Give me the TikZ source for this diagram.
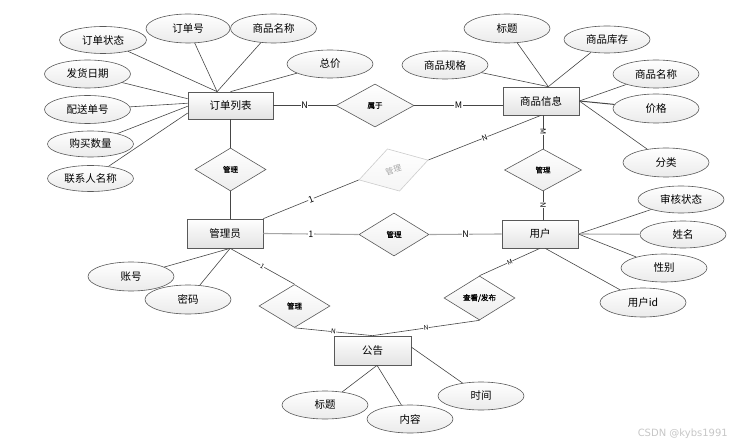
\documentclass[tikz,border=0pt]{standalone}
\usepackage{fontspec}
\setmainfont{Noto Sans CJK SC}
\newfontfamily\relfont[FakeBold=1]{Noto Sans CJK SC}
\newfontfamily\wmfont{DejaVu Sans}
\usetikzlibrary{shapes.geometric,shadows}
\begin{document}
\begin{tikzpicture}[x=1pt,y=-1pt,
 ent/.style={draw=gray!70!black, line width=0.7pt, top color=white, bottom color=gray!22,
   minimum width=76pt, minimum height=28pt, inner sep=0pt, font=\fontsize{10.5}{12}\selectfont,
   drop shadow={shadow xshift=1pt, shadow yshift=-1pt, opacity=0.25}},
 attr/.style={ellipse, draw=gray!70!black, line width=0.6pt, top color=white, bottom color=gray!16,
   minimum width=86pt, minimum height=28pt, inner sep=0pt, font=\fontsize{10.5}{12}\selectfont},
 rel/.style={diamond, draw=gray!70!black, line width=0.6pt, top color=white, bottom color=gray!14,
   minimum width=71pt, minimum height=43pt, inner sep=0pt, font=\relfont\fontsize{7.5}{9}\selectfont},
 ln/.style={draw=gray!55!black, line width=0.6pt},
 thk/.style={draw=gray!70, line width=1.1pt},
 card/.style={fill=white, inner sep=0.4pt, font=\fontsize{9}{10}\selectfont, sloped},
 cards/.style={fill=white, inner sep=0.3pt, font=\fontsize{6.5}{7}\selectfont, sloped},
 ]
\useasboundingbox (0,0) rectangle (746,446);

% entities
\node[ent, minimum width=85pt, minimum height=27pt] (ddlb) at (230.5,105.5) {订单列表};
\node[ent] (spxx) at (541,101) {商品信息};
\node[ent, minimum height=29pt] (gly) at (225,233.5) {管理员};
\node[ent] (yh) at (540,234) {用户};
\node[ent, minimum width=77pt, minimum height=29pt] (gg) at (372.5,350.5) {公告};

% relationships
\node[rel, minimum width=78pt] (sy) at (375,105.5) {属于};
\node[rel] (gla) at (230.5,169.5) {管理};
\node[rel, draw=gray!40, text=gray!70, bottom color=gray!8, rotate=16, minimum width=72pt, minimum height=44pt,
  font=\fontsize{8}{9}\selectfont] (glb) at (393.5,170) {管理};
\node[rel, minimum width=70pt] (glc) at (394,234.5) {管理};
\node[rel, minimum width=77pt, minimum height=42pt] (gld) at (543,170) {管理};
\node[rel] (gle) at (294.5,306) {管理};
\node[rel, minimum height=44pt] (ckfb) at (479.5,298) {查看/发布};

% attributes of 订单列表
\node[attr, minimum width=87pt, minimum height=27pt] (a1) at (103,40) {订单状态};
\node[attr, minimum width=84pt, minimum height=29pt] (a2) at (188,28.5) {订单号};
\node[attr, minimum height=29pt] (a3) at (273.5,28.5) {商品名称};
\node[attr] (a4) at (330,64) {总价};
\node[attr] (a5) at (87.5,74) {发货日期};
\node[attr] (a6) at (87.5,109.5) {配送单号};
\node[attr, minimum height=26pt] (a7) at (90.5,144) {购买数量};
\node[attr, minimum height=26pt] (a8) at (90.5,178.5) {联系人名称};
% attributes of 商品信息
\node[attr, minimum height=29pt] (b1) at (507,28.5) {标题};
\node[attr, minimum height=27pt] (b2) at (607,39.5) {商品库存};
\node[attr] (b3) at (445,65) {商品规格};
\node[attr] (b4) at (656,74) {商品名称};
\node[attr, minimum height=29pt] (b5) at (656,108.5) {价格};
\node[attr, minimum height=29pt] (b6) at (666,162.5) {分类};
% attributes of 用户
\node[attr, minimum height=27pt] (c1) at (681,199.5) {审核状态};
\node[attr, minimum height=27pt] (c2) at (683,234.5) {姓名};
\node[attr] (c3) at (664,268) {性别};
\node[attr, minimum height=29pt] (c4) at (643,302.5) {用户id};
% attributes of 管理员
\node[attr, minimum height=29pt] (d1) at (131,276.5) {账号};
\node[attr, minimum height=29pt] (d2) at (188,299.5) {密码};
% attributes of 公告
\node[attr] (e1) at (325,405) {标题};
\node[attr] (e2) at (410,419) {内容};
\node[attr] (e3) at (481,396) {时间};

% attribute lines
\draw[ln] (ddlb.134) -- (a1);
\draw[ln] (ddlb.134) -- (a2);
\draw[ln] (ddlb.134) -- (a3);
\draw[ln] (ddlb.north) -- (a4);
\draw[ln] (ddlb.171) -- (a5);
\draw[ln] (ddlb.177) -- (a6);
\draw[ln] (ddlb.181) -- (a7);
\draw[ln] (ddlb.190) -- (a8);

\draw[ln] (spxx.63) -- (b1);
\draw[ln] (spxx.63) -- (b2);
\draw[ln] (spxx.63) -- (b3);
\draw[ln] (spxx.east) -- (b4);
\draw[ln, line width=1pt] (spxx.east) -- (b5);
\draw[ln] (spxx.east) -- (b6);

\draw[ln] (yh.east) -- (c1);
\draw[thk] (yh.east) -- (c2);
\draw[ln] (yh.east) -- (c3);
\draw[ln] (yh.290) -- (c4);

\draw[ln] (gly.289) -- (d1);
\draw[ln] (gly.289) -- (d2);

\draw[ln] (gg.287) -- (e1);
\draw[ln] (gg.287) -- (e2);
\draw[ln] (gg.5) -- (e3);

% relationship lines
\draw[ln] (ddlb.east) -- node[card]{N} (sy.west);
\draw[ln] (sy.east) -- node[card]{M} (sy.east -| spxx.west);
\draw[ln] (ddlb.south) -- (gla.north);
\draw[ln] (gla.south) -- (gla.south |- gly.north);
\draw[ln] (gly.north east) -- node[card]{1} (glb.west);
\draw[ln] (glb.east) -- node[cards, font=\fontsize{7.5}{8}\selectfont]{N} (spxx.south);
\draw[ln] (gld.north |- spxx.south) -- node[cards, font=\fontsize{7.5}{8}\selectfont]{M} (gld.north);
\draw[ln] (gld.south) -- node[cards, font=\fontsize{7.5}{8}\selectfont]{N} (gld.south |- yh.north);
\draw[thk] (gly.east) -- node[card]{1} (glc.west);
\draw[thk] (glc.east) -- node[card]{N} (yh.west);
\draw[ln] (gly.289) -- node[cards]{1} (gle.north);
\draw[ln] (gle.south) -- node[cards]{N} (gg.north);
\draw[ln] (yh.south) -- node[cards]{M} (ckfb.north);
\draw[ln] (ckfb.south) -- node[cards]{N} (gg.north);

% watermark
\node[text=gray!45, font=\wmfont\fontsize{10}{12}\selectfont, anchor=east, inner sep=0pt] (wm) at (728,434) {CSDN @kybs1991};
\end{tikzpicture}
\end{document}
